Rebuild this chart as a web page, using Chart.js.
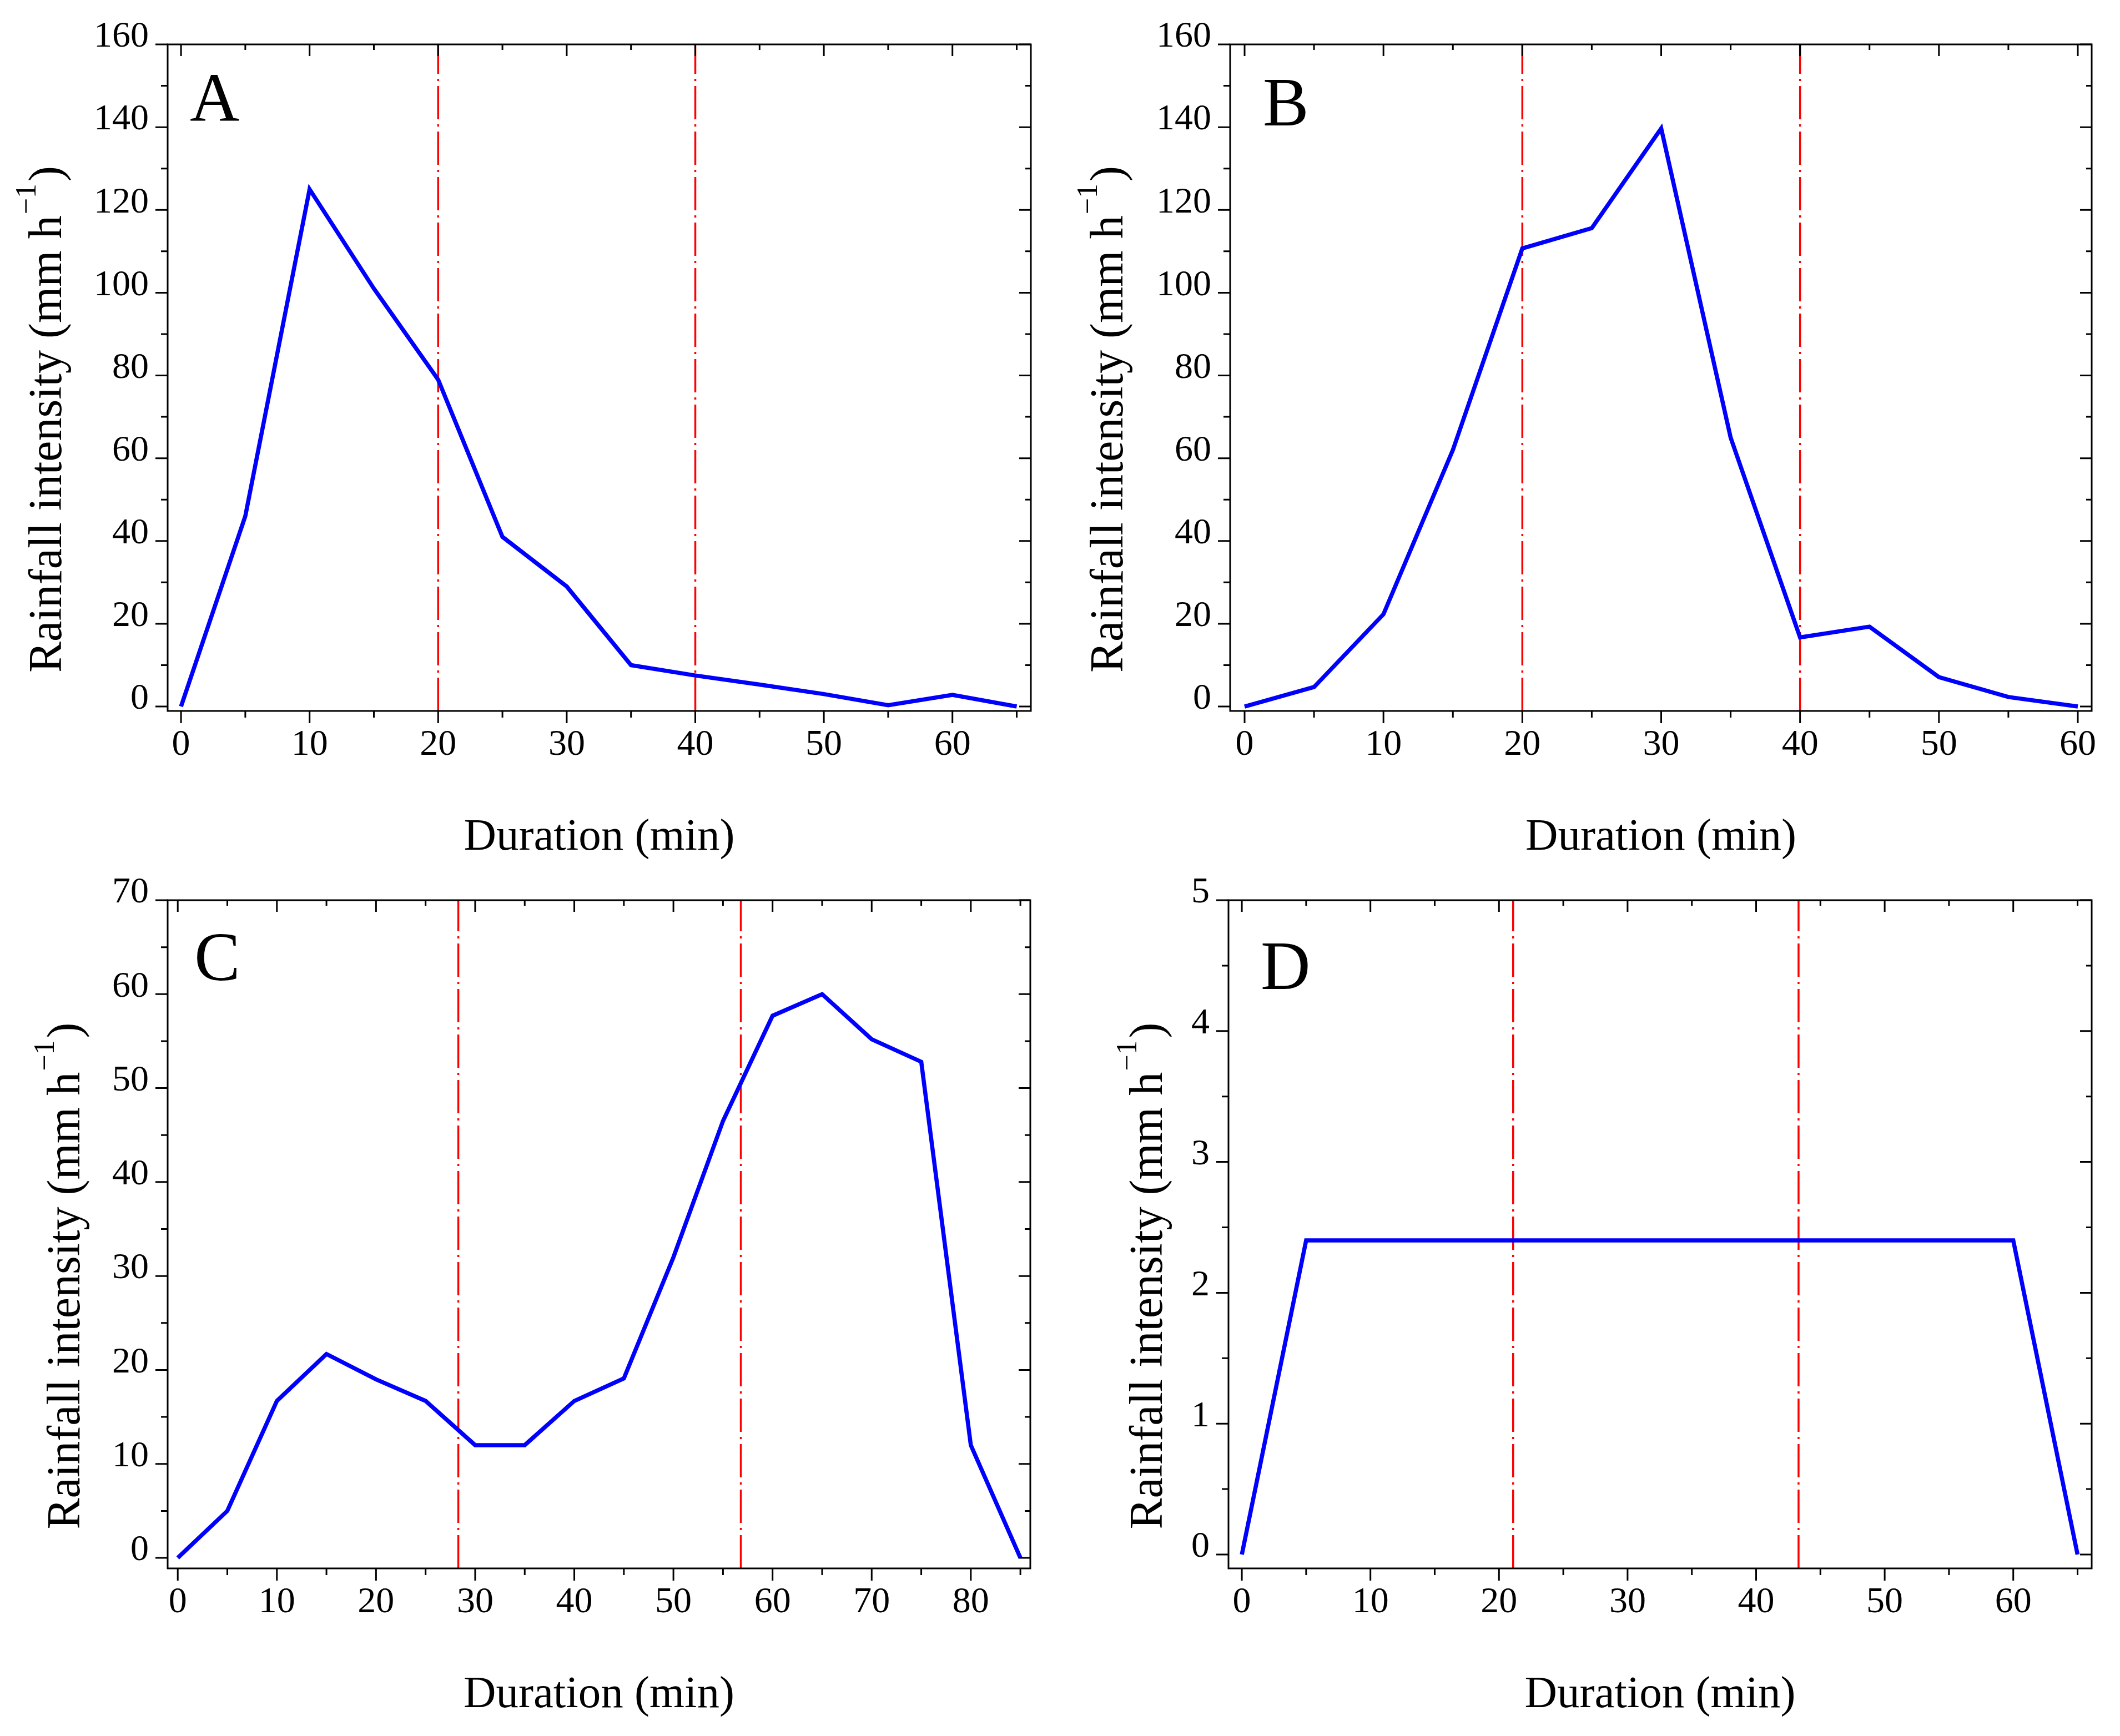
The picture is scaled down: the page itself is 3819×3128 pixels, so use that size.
<!DOCTYPE html>
<html>
<head>
<meta charset="utf-8">
<title>Rainfall intensity patterns</title>
<script src="https://cdn.jsdelivr.net/npm/chart.js@4.4.1/dist/chart.umd.min.js"></script>
<style>
  html, body { margin: 0; padding: 0; background: #fff; }
  #wrap { position: relative; width: 3819px; height: 3128px; background: #fff; }
  canvas { position: absolute; }
</style>
</head>
<body>
<div id="wrap">
  <canvas id="chartA" width="1910" height="1564" style="left:0;top:0;width:1910px;height:1564px"></canvas>
  <canvas id="chartB" width="1909" height="1564" style="left:1910px;top:0;width:1909px;height:1564px"></canvas>
  <canvas id="chartC" width="1910" height="1564" style="left:0;top:1564px;width:1910px;height:1564px"></canvas>
  <canvas id="chartD" width="1909" height="1564" style="left:1910px;top:1564px;width:1909px;height:1564px"></canvas>
</div>
<script>
// ---- data (duration in min, intensity in mm/h) ----
const durA = [0, 5, 10, 15, 20, 25, 30, 35, 40, 45, 50, 55, 60, 65];
const rainA = [0, 46, 125, 101, 79, 41, 29, 10, 7.5, 5.3, 3, 0.3, 2.8, 0];
const splitA = [20, 40];

const durB = [0, 5, 10, 15, 20, 25, 30, 35, 40, 45, 50, 55, 60];
const rainB = [0, 4.7, 22.3, 62, 110.7, 115.6, 139.7, 65, 16.7, 19.3, 7.1, 2.3, 0];
const splitB = [20, 40];

const durC = [0, 5, 10, 15, 20, 25, 30, 35, 40, 45, 50, 55, 60, 65, 70, 75, 80, 85];
const rainC = [0, 5, 16.7, 21.7, 19, 16.7, 12, 12, 16.7, 19.1, 32, 46.5, 57.7, 60, 55.2, 52.8, 12, 0];
const splitC = [28.3, 56.8];

const durD = [0, 5, 10, 15, 20, 25, 30, 35, 40, 45, 50, 55, 60, 65];
const rainD = [0, 2.4, 2.4, 2.4, 2.4, 2.4, 2.4, 2.4, 2.4, 2.4, 2.4, 2.4, 2.4, 0];
const splitD = [21.1, 43.3];

// tick labels
const xTicksA = [0, 10, 20, 30, 40, 50, 60];
const yTicksA = [0, 20, 40, 60, 80, 100, 120, 140, 160];
const xTicksB = [0, 10, 20, 30, 40, 50, 60];
const yTicksB = [0, 20, 40, 60, 80, 100, 120, 140, 160];
const xTicksC = [0, 10, 20, 30, 40, 50, 60, 70, 80];
const yTicksC = [0, 10, 20, 30, 40, 50, 60, 70];
const xTicksD = [0, 10, 20, 30, 40, 50, 60];
const yTicksD = [0, 1, 2, 3, 4, 5];

const SERIF = '"Liberation Serif", "DejaVu Serif", serif';

// majors from the tick list, plus a minor tick half way to the next one
function tickMarks(scale, majors) {
    const step = majors[1] - majors[0];
    const list = [];
    majors.forEach(v => {
        list.push({ v: v, major: true });
        if (v + step / 2 <= scale.max) list.push({ v: v + step / 2, major: false });
    });
    return list;
}

// frame, ticks on all four sides, axis titles and the panel letter
const panelDecor = {
    id: 'panelDecor',
    afterDraw(chart, args, o) {
        const { ctx, chartArea: a, scales: { x, y } } = chart;
        ctx.save();
        ctx.strokeStyle = '#000';
        ctx.lineWidth = 3;
        ctx.strokeRect(a.left, a.top, a.right - a.left, a.bottom - a.top);

        ctx.beginPath();
        tickMarks(x, x.ticks.map(t => t.value)).forEach(t => {
            const px = x.getPixelForValue(t.v);
            ctx.moveTo(px, a.bottom);
            ctx.lineTo(px, a.bottom + (t.major ? 22 : 12));
            ctx.moveTo(px, a.top);
            ctx.lineTo(px, a.top + (t.major ? 21 : 10));
        });
        tickMarks(y, y.ticks.map(t => t.value)).forEach(t => {
            const py = y.getPixelForValue(t.v);
            ctx.moveTo(a.left, py);
            ctx.lineTo(a.left - (t.major ? 22 : 12), py);
            ctx.moveTo(a.right, py);
            ctx.lineTo(a.right - (t.major ? 21 : 10), py);
        });
        ctx.stroke();

        ctx.fillStyle = '#000';
        ctx.textBaseline = 'alphabetic';

        // x title
        ctx.font = '81px ' + SERIF;
        ctx.textAlign = 'center';
        ctx.fillText('Duration (min)', (a.left + a.right) / 2, a.bottom + 250);

        // panel letter
        ctx.font = '124px ' + SERIF;
        ctx.textAlign = 'left';
        ctx.fillText(o.letter, a.left + o.letterDx, a.top + o.letterDy);

        // y title with superscript
        const main = 'Rainfall intensity (mm h', sup = '\u22121', close = ')';
        const fMain = '84px ' + SERIF, fSup = '52px ' + SERIF;
        ctx.font = fMain;
        const wMain = ctx.measureText(main).width;
        const wClose = ctx.measureText(close).width;
        ctx.font = fSup;
        const wSup = ctx.measureText(sup).width;
        ctx.translate(o.yTitleX, (a.top + a.bottom) / 2 + 75);
        ctx.rotate(-Math.PI / 2);
        let cx = -(wMain + wSup + wClose + 6) / 2;
        ctx.font = fMain;
        ctx.fillText(main, cx, 0);
        cx += wMain + 2;
        ctx.font = fSup;
        ctx.fillText(sup, cx, -46);
        cx += wSup + 4;
        ctx.font = fMain;
        ctx.fillText(close, cx, 0);
        ctx.restore();
    }
};

function makePanel(id, p) {
    const datasets = [{
        data: p.dur.map((d, i) => ({ x: d, y: p.rain[i] })),
        borderColor: '#0000ff',
        borderWidth: 7.5,
        pointRadius: 0,
        tension: 0,
        fill: false
    }].concat(p.splits.map(m => ({
        data: [{ x: m, y: p.yMin }, { x: m, y: p.yMax }],
        borderColor: '#ff0000',
        borderWidth: 3.5,
        borderDash: [60, 9, 4, 9],
        pointRadius: 0,
        fill: false
    })));

    const tickFont = { family: SERIF, size: 66 };

    return new Chart(document.getElementById(id), {
        type: 'line',
        data: { datasets: datasets },
        plugins: [panelDecor],
        options: {
            responsive: false,
            animation: false,
            devicePixelRatio: 1,
            layout: { padding: { top: p.top, right: p.right, left: 0, bottom: 0 } },
            plugins: {
                legend: { display: false },
                tooltip: { enabled: false },
                panelDecor: { letter: p.letter, letterDx: p.letterDx, letterDy: p.letterDy, yTitleX: p.yTitleX }
            },
            scales: {
                x: {
                    type: 'linear',
                    min: p.xMin,
                    max: p.xMax,
                    afterBuildTicks: s => { s.ticks = p.xTicks.map(v => ({ value: v })); },
                    afterFit: s => {
                        s.height = p.bottomH;
                        s.paddingLeft = 0;
                        s.paddingRight = 0;
                    },
                    grid: { display: false, drawTicks: false },
                    border: { display: false },
                    ticks: {
                        font: tickFont, color: '#000', padding: 22,
                        autoSkip: false, maxRotation: 0, minRotation: 0,
                        callback: v => String(v)
                    }
                },
                y: {
                    type: 'linear',
                    min: p.yMin,
                    max: p.yMax,
                    afterBuildTicks: s => { s.ticks = p.yTicks.map(v => ({ value: v })); },
                    afterFit: s => {
                        s.width = p.leftW;
                        s.paddingTop = 0;
                        s.paddingBottom = 0;
                    },
                    grid: { display: false, drawTicks: false },
                    border: { display: false },
                    ticks: {
                        font: tickFont, color: '#000', padding: 34, labelOffset: -13,
                        autoSkip: false,
                        callback: v => String(v)
                    }
                }
            }
        }
    });
}

makePanel('chartA', {
    dur: durA, rain: rainA, splits: splitA, xTicks: xTicksA, yTicks: yTicksA,
    xMin: -1.04, xMax: 66.1, yMin: -1.07, yMax: 160,
    top: 80, right: 53, leftW: 302, bottomH: 283,
    letter: 'A', letterDx: 40, letterDy: 138, yTitleX: 110
});
makePanel('chartB', {
    dur: durB, rain: rainB, splits: splitB, xTicks: xTicksB, yTicks: yTicksB,
    xMin: -1.04, xMax: 61.0, yMin: -1.07, yMax: 160,
    top: 80, right: 51, leftW: 306, bottomH: 283,
    letter: 'B', letterDx: 59, letterDy: 146, yTitleX: 112
});
makePanel('chartC', {
    dur: durC, rain: rainC, splits: splitC, xTicks: xTicksC, yTicks: yTicksC,
    xMin: -1.02, xMax: 86.0, yMin: -1.12, yMax: 70,
    top: 58, right: 54, leftW: 302, bottomH: 302,
    letter: 'C', letterDx: 48, letterDy: 144, yTitleX: 143
});
makePanel('chartD', {
    dur: durD, rain: rainD, splits: splitD, xTicks: xTicksD, yTicks: yTicksD,
    xMin: -1.04, xMax: 66.1, yMin: -0.106, yMax: 5,
    top: 58, right: 51, leftW: 303, bottomH: 302,
    letter: 'D', letterDx: 58, letterDy: 160, yTitleX: 183
});
</script>
</body>
</html>
